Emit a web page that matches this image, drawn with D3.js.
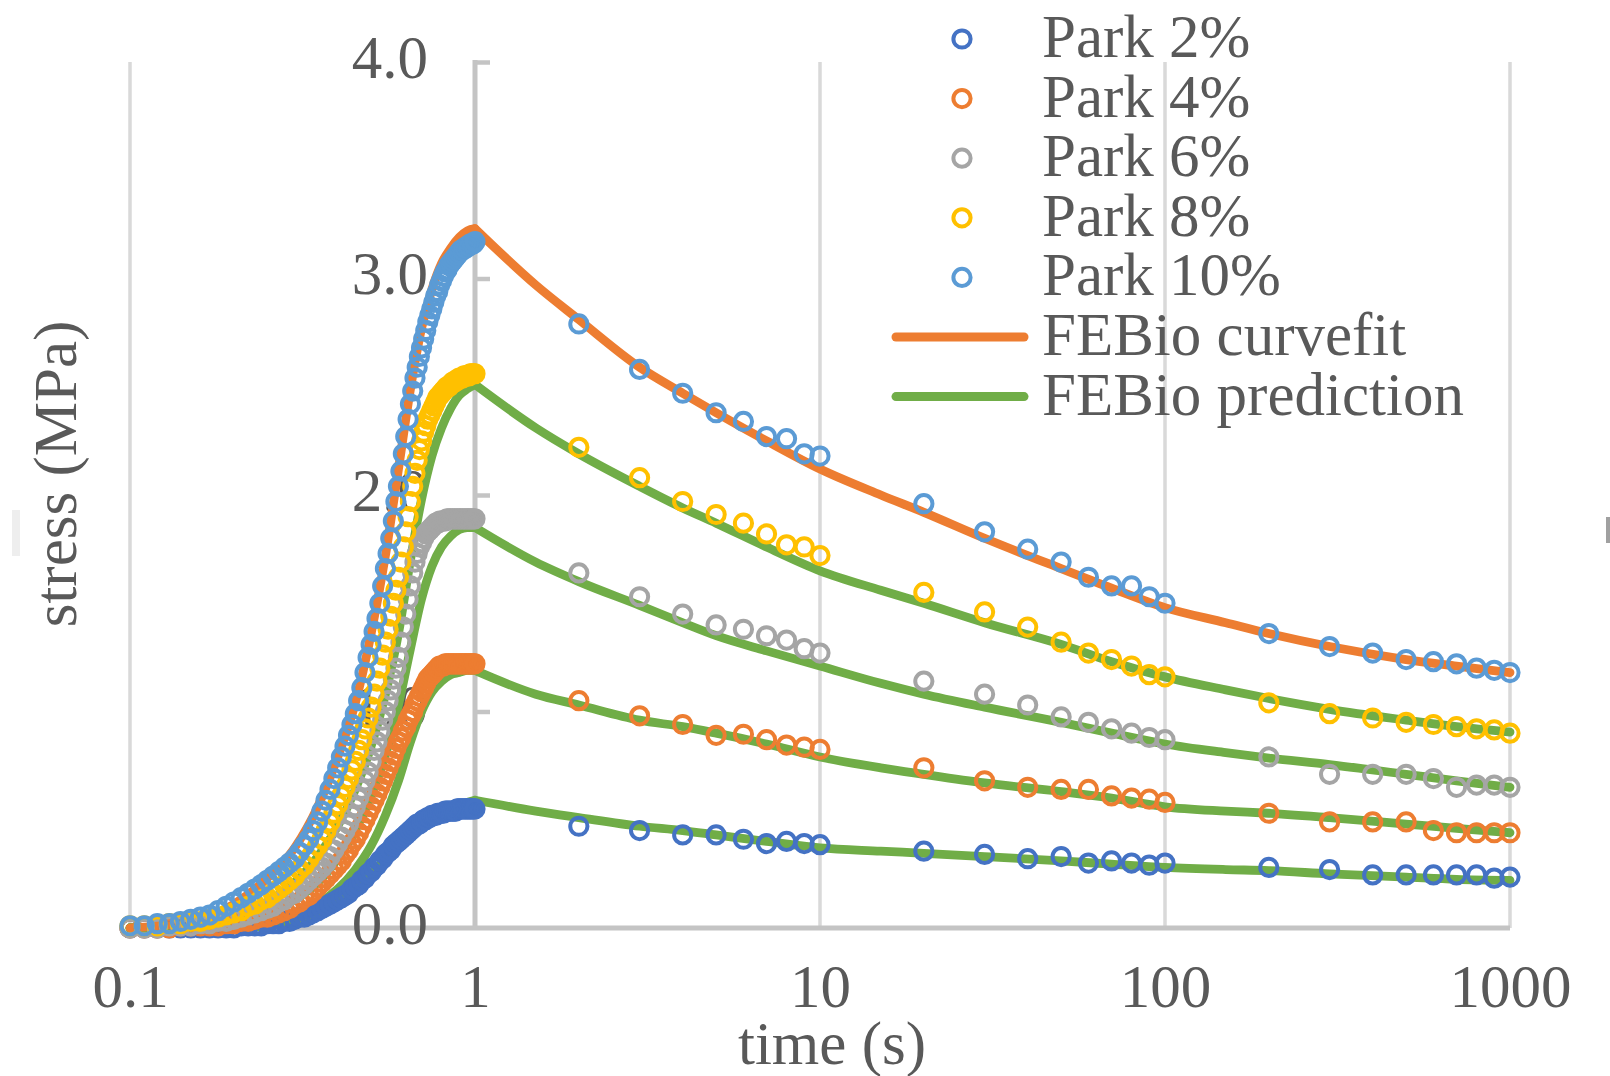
<!DOCTYPE html>
<html>
<head>
<meta charset="utf-8">
<script src="https://cdnjs.cloudflare.com/ajax/libs/d3/7.8.5/d3.min.js"></script>
<style>
  html, body { margin: 0; padding: 0; background: #fff; }
  svg { display: block; }
  text { font-family: "Liberation Serif", "Times New Roman", serif; fill: #595959; }
</style>
</head>
<body>
<svg id="chart" width="1610" height="1076"></svg>
<script>
// ---- axis ticks ----
const xTickValues = [0.1, 1, 10, 100, 1000];
const xTickLabels = ["0.1", "1", "10", "100", "1000"];
const yTickValues = [0, 1, 2, 3, 4];
const yTickLabels = ["0.0", "1.0", "2.0", "3.0", "4.0"];

// ---- experimental data: loading ramp (s) ----
const rampTimes = [
  0.10,0.11,0.12,0.13,0.14,0.15,0.16,0.17,0.18,0.19,
  0.20,0.21,0.22,0.23,0.24,0.25,0.26,0.27,0.28,0.29,
  0.30,0.31,0.32,0.33,0.34,0.35,0.36,0.37,0.38,0.39,
  0.40,0.41,0.42,0.43,0.44,0.45,0.46,0.47,0.48,0.49,
  0.50,0.51,0.52,0.53,0.54,0.55,0.56,0.57,0.58,0.59,
  0.60,0.61,0.62,0.63,0.64,0.65,0.66,0.67,0.68,0.69,
  0.70,0.71,0.72,0.73,0.74,0.75,0.76,0.77,0.78,0.79,
  0.80,0.81,0.82,0.83,0.84,0.85,0.86,0.87,0.88,0.89,
  0.90,0.91,0.92,0.93,0.94,0.95,0.96,0.97,0.98,0.99,
  1.00
];
const park2Ramp = [
  0.00,0.00,0.00,0.00,0.00,0.00,0.00,0.00,0.00,0.00,
  0.00,0.01,0.01,0.01,0.01,0.02,0.02,0.02,0.03,0.03,
  0.04,0.05,0.05,0.06,0.07,0.08,0.09,0.10,0.11,0.12,
  0.13,0.14,0.15,0.16,0.18,0.19,0.20,0.22,0.23,0.25,
  0.26,0.28,0.29,0.31,0.32,0.34,0.35,0.36,0.38,0.39,
  0.40,0.41,0.42,0.43,0.44,0.45,0.46,0.47,0.48,0.48,
  0.49,0.50,0.50,0.51,0.51,0.52,0.52,0.52,0.53,0.53,
  0.53,0.53,0.54,0.54,0.54,0.54,0.54,0.54,0.54,0.55,
  0.55,0.55,0.55,0.55,0.55,0.55,0.55,0.55,0.55,0.55,
  0.55
];
const park4Ramp = [
  0.00,0.00,0.00,0.00,0.01,0.01,0.01,0.01,0.01,0.02,
  0.02,0.03,0.03,0.04,0.05,0.05,0.06,0.07,0.08,0.09,
  0.11,0.12,0.14,0.15,0.17,0.19,0.21,0.23,0.25,0.27,
  0.29,0.31,0.34,0.36,0.39,0.41,0.44,0.47,0.50,0.53,
  0.56,0.59,0.62,0.65,0.68,0.71,0.74,0.77,0.80,0.83,
  0.86,0.88,0.91,0.93,0.96,0.98,1.00,1.03,1.05,1.07,
  1.09,1.11,1.13,1.15,1.16,1.17,1.18,1.19,1.20,1.21,
  1.21,1.21,1.22,1.22,1.22,1.22,1.22,1.22,1.22,1.22,
  1.22,1.22,1.22,1.22,1.22,1.22,1.22,1.22,1.22,1.22,
  1.22
];
const park6Ramp = [
  0.00,0.00,0.00,0.01,0.01,0.01,0.02,0.02,0.03,0.03,
  0.04,0.05,0.06,0.07,0.08,0.09,0.10,0.12,0.13,0.15,
  0.16,0.18,0.20,0.22,0.24,0.26,0.28,0.30,0.33,0.36,
  0.39,0.42,0.45,0.48,0.52,0.56,0.60,0.64,0.68,0.72,
  0.77,0.82,0.86,0.91,0.96,1.00,1.05,1.10,1.15,1.20,
  1.25,1.32,1.39,1.45,1.52,1.58,1.64,1.69,1.73,1.76,
  1.78,1.80,1.82,1.83,1.84,1.85,1.86,1.87,1.87,1.88,
  1.88,1.88,1.88,1.89,1.89,1.89,1.89,1.89,1.89,1.89,
  1.89,1.89,1.89,1.89,1.89,1.89,1.89,1.89,1.89,1.89,
  1.89
];
const park8Ramp = [
  0.01,0.01,0.01,0.02,0.02,0.03,0.03,0.04,0.05,0.06,
  0.07,0.08,0.10,0.11,0.13,0.14,0.16,0.18,0.20,0.22,
  0.24,0.27,0.29,0.32,0.35,0.38,0.41,0.45,0.49,0.53,
  0.57,0.61,0.65,0.69,0.73,0.77,0.82,0.87,0.92,0.97,
  1.02,1.08,1.14,1.20,1.26,1.32,1.38,1.44,1.50,1.56,
  1.62,1.69,1.76,1.83,1.90,1.97,2.04,2.10,2.16,2.21,
  2.25,2.29,2.32,2.35,2.37,2.39,2.41,2.43,2.45,2.46,
  2.47,2.48,2.49,2.50,2.50,2.51,2.52,2.52,2.53,2.53,
  2.54,2.54,2.54,2.55,2.55,2.55,2.55,2.56,2.56,2.56,
  2.56
];
const park10Ramp = [
  0.01,0.01,0.02,0.02,0.03,0.04,0.05,0.06,0.08,0.10,
  0.12,0.14,0.16,0.18,0.20,0.22,0.24,0.26,0.28,0.30,
  0.32,0.35,0.38,0.41,0.45,0.49,0.54,0.59,0.64,0.69,
  0.74,0.79,0.84,0.89,0.94,0.99,1.05,1.11,1.18,1.25,
  1.31,1.37,1.43,1.50,1.58,1.66,1.73,1.80,1.88,1.97,
  2.04,2.11,2.19,2.27,2.35,2.42,2.48,2.54,2.59,2.64,
  2.68,2.72,2.76,2.80,2.83,2.86,2.89,2.92,2.94,2.97,
  2.99,3.01,3.03,3.04,3.06,3.07,3.08,3.09,3.10,3.11,
  3.12,3.13,3.13,3.14,3.14,3.15,3.15,3.16,3.16,3.16,
  3.17
];

// ---- experimental data: stress relaxation (s) ----
const relaxTimes = [2,3,4,5,6,7,8,9,10,20,30,40,50,60,70,80,90,100,200,300,400,500,600,700,800,900,1000];
const park2Relax  = [0.47,0.45,0.43,0.43,0.41,0.39,0.40,0.39,0.385,0.355,0.34,0.32,0.33,0.30,0.31,0.30,0.29,0.30,0.28,0.27,0.245,0.245,0.245,0.245,0.245,0.23,0.235];
const park4Relax  = [1.05,0.98,0.94,0.89,0.895,0.87,0.845,0.835,0.825,0.74,0.68,0.65,0.64,0.64,0.61,0.60,0.595,0.58,0.53,0.49,0.49,0.49,0.45,0.44,0.44,0.44,0.44];
const park6Relax  = [1.64,1.53,1.45,1.40,1.38,1.35,1.33,1.29,1.27,1.14,1.08,1.03,0.975,0.95,0.92,0.90,0.88,0.87,0.79,0.71,0.71,0.71,0.69,0.65,0.66,0.66,0.65];
const park8Relax  = [2.22,2.08,1.97,1.91,1.87,1.82,1.77,1.76,1.72,1.55,1.46,1.39,1.32,1.27,1.24,1.21,1.17,1.16,1.04,0.99,0.97,0.95,0.94,0.93,0.92,0.915,0.90];
const park10Relax = [2.79,2.58,2.47,2.38,2.34,2.27,2.26,2.19,2.18,1.96,1.83,1.75,1.69,1.62,1.58,1.58,1.53,1.50,1.36,1.30,1.27,1.24,1.23,1.22,1.20,1.19,1.18];

// ---- FEBio model curves ----
const modelRampTimes  = [0.10,0.15,0.20,0.25,0.30,0.35,0.40,0.45,0.50,0.55,0.60,0.65,0.70,0.75,0.80,0.85,0.90,0.95,1.00];
const modelRelaxTimes = [1,1.5,2,3,4,5,7,10,15,20,30,50,70,100,150,200,300,500,700,1000];

const fit10Ramp   = [0.00,0.03,0.11,0.23,0.37,0.56,0.79,1.04,1.36,1.72,2.12,2.49,2.77,2.95,3.07,3.14,3.19,3.22,3.23];
const fit10Relax  = [3.23,2.97,2.81,2.59,2.47,2.38,2.25,2.12,2.00,1.92,1.80,1.66,1.57,1.48,1.41,1.36,1.30,1.24,1.21,1.18];
const pred8Ramp   = [0.00,0.01,0.05,0.12,0.21,0.33,0.47,0.64,0.84,1.08,1.36,1.70,1.98,2.18,2.31,2.40,2.46,2.49,2.51];
const pred8Relax  = [2.51,2.31,2.19,2.04,1.94,1.87,1.76,1.65,1.56,1.50,1.41,1.31,1.23,1.16,1.10,1.06,1.01,0.96,0.93,0.905];
const pred6Ramp   = [0.00,0.01,0.03,0.07,0.13,0.21,0.32,0.45,0.61,0.80,1.03,1.29,1.52,1.67,1.76,1.81,1.84,1.85,1.85];
const pred6Relax  = [1.85,1.69,1.60,1.49,1.41,1.35,1.28,1.21,1.13,1.08,1.02,0.95,0.90,0.85,0.81,0.785,0.755,0.71,0.68,0.65];
const pred4Ramp   = [0.00,0.00,0.01,0.03,0.06,0.11,0.18,0.27,0.38,0.52,0.68,0.86,1.00,1.09,1.14,1.17,1.18,1.19,1.19];
const pred4Relax  = [1.19,1.08,1.03,0.96,0.93,0.90,0.85,0.79,0.74,0.71,0.67,0.63,0.60,0.56,0.54,0.53,0.51,0.48,0.46,0.44];
const pred2Ramp   = [0.00,0.00,0.00,0.01,0.03,0.07,0.12,0.18,0.25,0.32,0.38,0.43,0.47,0.50,0.52,0.54,0.56,0.58,0.59];
const pred2Relax  = [0.59,0.54,0.51,0.47,0.45,0.43,0.40,0.37,0.355,0.345,0.33,0.31,0.295,0.28,0.27,0.265,0.25,0.235,0.225,0.22];

// ---- series names & colours ----
const parkNames  = ["Park 2%", "Park 4%", "Park 6%", "Park 8%", "Park 10%"];
const parkColors = ["#4472C4", "#ED7D31", "#A5A5A5", "#FFC000", "#5B9BD5"];
const modelNames  = ["FEBio curvefit", "FEBio prediction"];
const modelColors = ["#ED7D31", "#70AD47"];

const parkRamps   = [park2Ramp, park4Ramp, park6Ramp, park8Ramp, park10Ramp];
const parkRelaxes = [park2Relax, park4Relax, park6Relax, park8Relax, park10Relax];

const modelCurves = [
  { ramp: pred2Ramp,  relax: pred2Relax,  color: modelColors[1] },
  { ramp: pred4Ramp,  relax: pred4Relax,  color: modelColors[1] },
  { ramp: pred6Ramp,  relax: pred6Relax,  color: modelColors[1] },
  { ramp: pred8Ramp,  relax: pred8Relax,  color: modelColors[1] },
  { ramp: fit10Ramp,  relax: fit10Relax,  color: modelColors[0] }
];

// ---- layout ----
const W = 1610, H = 1076;
const x = d3.scaleLog().domain([0.1, 1000]).range([130, 1510]);
const y = d3.scaleLinear().domain([0, 4]).range([928, 62]);
const FONT = 61;
const MARKER_R = 8.6, MARKER_W = 4;

const svg = d3.select("#chart");
svg.append("rect").attr("width", W).attr("height", H).attr("fill", "#fff");

// vertical gridlines at each decade
svg.append("g")
  .selectAll("line")
  .data(xTickValues)
  .join("line")
  .attr("x1", d => x(d)).attr("x2", d => x(d))
  .attr("y1", y(4)).attr("y2", y(0))
  .attr("stroke", "#D9D9D9")
  .attr("stroke-width", 3.5);

// horizontal axis line at stress = 0
svg.append("line")
  .attr("x1", x(0.1)).attr("x2", x(1000))
  .attr("y1", y(0)).attr("y2", y(0))
  .attr("stroke", "#C4C4C4")
  .attr("stroke-width", 5);

// vertical axis crossing at t = 1 s, tick marks pointing right
const yTickG = svg.append("g")
  .attr("transform", `translate(${x(1)},0)`)
  .call(d3.axisRight(y).tickValues(yTickValues.slice(1)).tickSize(15).tickFormat(""));
yTickG.select(".domain").remove();
yTickG.selectAll(".tick line").attr("stroke", "#C4C4C4").attr("stroke-width", 4.5);
yTickG.append("line")
  .attr("x1", 0).attr("x2", 0)
  .attr("y1", y(4) - 2).attr("y2", y(0))
  .attr("stroke", "#C4C4C4")
  .attr("stroke-width", 5);

// y tick labels
const yLabG = svg.append("g")
  .attr("transform", `translate(${x(1)},0)`)
  .call(d3.axisLeft(y).tickValues(yTickValues)
    .tickFormat((d, i) => yTickLabels[i]).tickSize(0).tickPadding(47));
yLabG.select(".domain").remove();
yLabG.selectAll("text")
  .style("font-size", FONT + "px")
  .style("fill", "#595959")
  .attr("dy", "0.25em");

// x tick labels
const xLabG = svg.append("g")
  .attr("transform", `translate(0,${y(0)})`)
  .call(d3.axisBottom(x).tickValues(xTickValues)
    .tickFormat((d, i) => xTickLabels[i]).tickSize(0));
xLabG.select(".domain").remove();
xLabG.selectAll("text")
  .style("font-size", FONT + "px")
  .style("fill", "#595959")
  .attr("y", 79)
  .attr("dy", 0);

// axis titles
svg.append("text")
  .attr("x", 832).attr("y", 1064)
  .attr("text-anchor", "middle")
  .style("font-size", FONT + "px")
  .text("time (s)");

svg.append("text")
  .attr("transform", "translate(76,474) rotate(-90)")
  .attr("text-anchor", "middle")
  .style("font-size", FONT + "px")
  .text("stress (MPa)");

// model curves: loading ramp and relaxation drawn as two joined pieces
const lineGen = d3.line()
  .x(d => x(d[0]))
  .y(d => y(d[1]))
  .curve(d3.curveMonotoneX);

const curveG = svg.append("g");
modelCurves.forEach(c => {
  const rampPts = modelRampTimes.map((t, i) => [t, c.ramp[i]]);
  const relaxPts = modelRelaxTimes.map((t, i) => [t, c.relax[i]]);
  [rampPts, relaxPts].forEach(pts => {
    curveG.append("path")
      .datum(pts)
      .attr("d", lineGen)
      .attr("fill", "none")
      .attr("stroke", c.color)
      .attr("stroke-width", 8.8)
      .attr("stroke-linecap", "round")
      .attr("stroke-linejoin", "round");
  });
});

// experimental markers (open circles)
const markerG = svg.append("g");
parkNames.forEach((name, s) => {
  const pts = rampTimes.map((t, i) => [t, parkRamps[s][i]])
    .concat(relaxTimes.map((t, i) => [t, parkRelaxes[s][i]]));
  markerG.append("g")
    .selectAll("circle")
    .data(pts)
    .join("circle")
    .attr("cx", d => x(d[0]))
    .attr("cy", d => y(d[1]))
    .attr("r", MARKER_R)
    .attr("fill", "none")
    .attr("stroke", parkColors[s])
    .attr("stroke-width", MARKER_W);
});

// legend
const legendRowY = [39, 98.6, 158.2, 217.8, 277.4, 337, 396.6];
const legend = svg.append("g");
parkNames.forEach((name, i) => {
  legend.append("circle")
    .attr("cx", 962).attr("cy", legendRowY[i])
    .attr("r", MARKER_R)
    .attr("fill", "none")
    .attr("stroke", parkColors[i])
    .attr("stroke-width", MARKER_W);
  legend.append("text")
    .attr("x", 1042).attr("y", legendRowY[i] + 18)
    .style("font-size", FONT + "px")
    .text(name);
});
modelNames.forEach((name, j) => {
  const ry = legendRowY[parkNames.length + j];
  legend.append("line")
    .attr("x1", 896).attr("x2", 1024)
    .attr("y1", ry).attr("y2", ry)
    .attr("stroke", modelColors[j])
    .attr("stroke-width", 9)
    .attr("stroke-linecap", "round");
  legend.append("text")
    .attr("x", 1042).attr("y", ry + 18)
    .style("font-size", FONT + "px")
    .text(name);
});

// faint frame fragments at the left and right edges
svg.append("rect").attr("x", 12).attr("y", 510).attr("width", 8).attr("height", 46)
  .attr("fill", "#EEEEEE");
svg.append("rect").attr("x", 1606).attr("y", 517).attr("width", 4).attr("height", 26)
  .attr("fill", "#A0A0A0");
</script>
</body>
</html>
